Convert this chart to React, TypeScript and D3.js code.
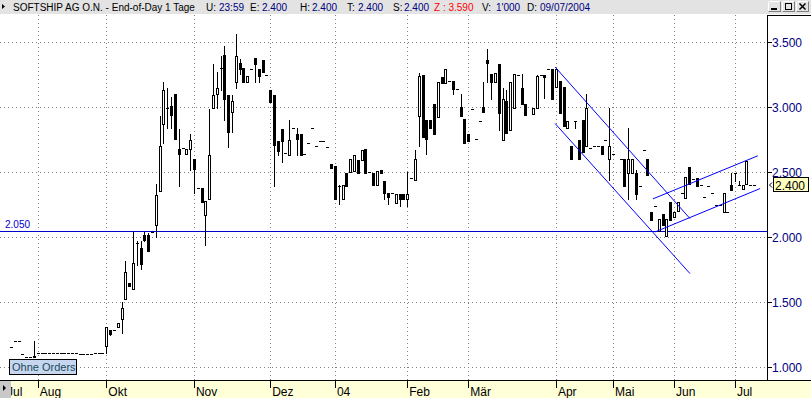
import * as d3 from "d3";

// right-axis price levels
const priceTicks = [1.0, 1.5, 2.0, 2.5, 3.0, 3.5];

// month labels and the bar index where each month starts
const monthLabels = ["Jul", "Aug", "Okt", "Nov", "Dez", "04", "Feb", "Mär", "Apr", "Mai", "Jun", "Jul"];
const monthStarts = [-1.6, 7, 25, 48, 68, 85, 104, 120, 143, 158, 174, 190];

// daily bars [open, high, low, close]; a single number = one traded price; null = no bar
const bars: (number | number[] | null)[] = [
  1.154, 1.2, 1.2, 1.1, 1.08, 1.08, [1.08, 1.2, 1.08, 1.085],
  1.113, 1.113, 1.113, 1.113, 1.113, 1.113, 1.113, 1.113, 1.113, 1.113, 1.113,
  1.105, 1.105, 1.105, 1.105, 1.113, 1.113, 1.113,
  // Okt
  [1.167, 1.31, 1.113, 1.31], [1.285, 1.29, 1.25, 1.254], 1.285, [1.31, 1.34, 1.31, 1.34],
  [1.372, 1.5, 1.264, 1.454], [1.525, 1.818, 1.525, 1.731], [1.648, 1.648, 1.628, 1.628],
  [1.602, 2.044, 1.602, 1.802], [1.96, 1.975, 1.785, 1.96], [1.915, 1.972, 1.754, 1.792],
  [2.018, 2.044, 1.972, 1.977], [2.018, 2.03, 1.895, 1.895], 2.04, [2.098, 2.413, 2.002, 2.328],
  [2.356, 2.93, 2.356, 2.7], [2.874, 3.195, 2.725, 3.131], [2.998, 3.145, 2.838, 2.998],
  [3.008, 3.079, 2.84, 2.944], [3.1, 3.1, 2.759, 2.759], [2.677, 2.836, 2.395, 2.644], 2.687,
  [2.644, 2.682, 2.644, 2.682], [2.682, 2.798, 2.515, 2.746],
  // Nov
  [2.6, 2.6, 2.344, 2.528], 2.377, [2.377, 2.377, 2.272, 2.272], [2.175, 2.277, 1.944, 2.277],
  [2.298, 2.99, 2.298, 2.636], [2.998, 3.336, 2.995, 3.094], [3.1, 3.272, 2.995, 3.145],
  [3.302, 3.395, 3.136, 3.302], [3.4, 3.469, 2.9, 3.067], [3.092, 3.092, 2.694, 2.81],
  [2.967, 3.092, 2.81, 3.046], [3.198, 3.567, 3.145, 3.392], [3.344, 3.375, 3.254, 3.298],
  [3.302, 3.302, 3.196, 3.196], [3.196, 3.244, 3.196, 3.244], 3.298, [3.377, 3.377, 3.196, 3.333],
  [3.298, 3.298, 3.196, 3.242], [3.362, 3.362, 3.275, 3.275], 3.245,
  // Dez
  [3.136, 3.136, 3.041, 3.041], [3.092, 3.092, 2.398, 2.713], [2.738, 2.738, 2.63, 2.664],
  [2.836, 2.836, 2.579, 2.741], 2.648, [2.636, 2.9, 2.636, 2.746], 2.844, [2.798, 2.844, 2.63, 2.76],
  [2.798, 2.798, 2.631, 2.631], 2.644, 2.729, 2.844, 2.7, 2.744, 2.744, 2.695, [2.567, 2.567, 2.53, 2.53],
  // 04
  [2.546, 2.546, 2.292, 2.292], [2.395, 2.4, 2.259, 2.395], [2.298, 2.4, 2.298, 2.4],
  [2.498, 2.498, 2.395, 2.395], [2.502, 2.605, 2.502, 2.605], [2.51, 2.636, 2.51, 2.636],
  [2.597, 2.597, 2.498, 2.498], [2.597, 2.669, 2.597, 2.669], [2.682, 2.682, 2.498, 2.498], 2.5,
  [2.498, 2.498, 2.4, 2.4], [2.4, 2.508, 2.4, 2.508], [2.515, 2.515, 2.498, 2.498],
  [2.431, 2.431, 2.292, 2.344], [2.344, 2.344, 2.259, 2.31], 2.344, [2.267, 2.336, 2.267, 2.336],
  [2.336, 2.336, 2.24, 2.292], [2.33, 2.33, 2.298, 2.298],
  // Feb
  [2.298, 2.502, 2.24, 2.336], 2.459, [2.444, 2.669, 2.444, 2.6], [2.933, 3.267, 2.7, 3.244],
  [3.246, 3.246, 2.772, 2.772], [2.9, 2.9, 2.644, 2.758], [2.9, 2.9, 2.841, 2.841],
  [3.028, 3.028, 2.798, 2.798], [2.925, 3.198, 2.925, 3.198], [3.233, 3.233, 3.19, 3.19],
  [3.19, 3.298, 3.19, 3.298], 3.2, [3.2, 3.2, 3.105, 3.144], 3.144, [3.003, 3.105, 2.935, 2.935],
  [2.913, 2.913, 2.725, 2.725],
  // Mär
  [2.798, 2.798, 2.741, 2.741], 2.99, 2.76, 2.897, [3.003, 3.195, 2.964, 2.964],
  [3.362, 3.446, 3.195, 3.341], [3.259, 3.259, 3.067, 3.195], [3.196, 3.267, 3.196, 3.267],
  [3.331, 3.331, 2.828, 2.957], [2.746, 3.145, 2.746, 3.067], [3.046, 3.131, 2.805, 2.805],
  [2.823, 3.195, 2.823, 3.195], [2.998, 3.259, 2.998, 3.259], 3.25, [3.145, 3.259, 3.028, 3.028],
  [3.028, 3.028, 2.938, 2.938], null, [2.946, 2.998, 2.946, 2.998], [2.998, 3.246, 2.998, 3.238],
  3.246, [3.246, 3.246, 3.072, 3.233], 3.298, [3.292, 3.292, 3.067, 3.067],
  // Apr
  [3.158, 3.298, 3.158, 3.298], [3.2, 3.2, 2.957, 2.957], [3.156, 3.156, 2.856, 2.856],
  [2.841, 2.895, 2.841, 2.895], [2.7, 2.7, 2.6, 2.6], [2.892, 2.892, 2.84, 2.892],
  [2.746, 2.746, 2.6, 2.6], [2.9, 2.9, 2.656, 2.656], [2.7, 3.1, 2.7, 2.995], 2.685, 2.7, 2.7,
  [2.7, 2.7, 2.644, 2.644], 2.746, [2.6, 2.998, 2.444, 2.7],
  // Mai
  2.644, null, 2.6, [2.6, 2.6, 2.392, 2.392], [2.498, 2.844, 2.298, 2.6], [2.498, 2.6, 2.498, 2.6],
  [2.498, 2.52, 2.298, 2.336], 2.395, 2.674, [2.6, 2.6, 2.482, 2.482], [2.195, 2.195, 2.136, 2.136],
  2.241, [2.049, 2.144, 2.049, 2.144], [2.182, 2.182, 2.098, 2.098], [2.008, 2.144, 2.008, 2.144],
  [2.272, 2.272, 2.131, 2.131],
  // Jun
  [2.156, 2.195, 2.156, 2.195], [2.2, 2.272, 2.2, 2.272], 2.341, [2.305, 2.464, 2.305, 2.464],
  [2.541, 2.541, 2.413, 2.413], 2.451, [2.456, 2.456, 2.395, 2.395], 2.405, 2.31, 2.395, 2.344,
  2.246, 2.246, [2.195, 2.341, 2.195, 2.341], 2.195, [2.4, 2.495, 2.362, 2.362],
  // Jul
  [2.495, 2.495, 2.43, 2.495], [2.405, 2.436, 2.405, 2.405], [2.374, 2.402, 2.374, 2.402],
  [2.413, 2.587, 2.413, 2.587], 2.4, 2.4,
];

// drawn trend lines: [barIndex, price] end points
const trendLines = [
  [[142.8, 3.31], [178.2, 2.144]],
  [[142.8, 2.875], [178.2, 1.721]],
  [[168.5, 2.296], [196.0, 2.627]],
  [[169.0, 2.041], [196.6, 2.375]],
];
const supportLevel = 2.05;

// header fields
const header = [
  { t: "SOFTSHIP AG O.N. - End-of-Day 1 Tage", c: "#000", x: 13 },
  { t: "U:", c: "#000", x: 206 }, { t: "23:59", c: "#000080", x: 219 },
  { t: "E:", c: "#000", x: 250 }, { t: "2.400", c: "#000080", x: 262 },
  { t: "H:", c: "#000", x: 300 }, { t: "2.400", c: "#000080", x: 312 },
  { t: "T:", c: "#000", x: 347 }, { t: "2.400", c: "#000080", x: 358 },
  { t: "S:", c: "#000", x: 393 }, { t: "2.400", c: "#000080", x: 404 },
  { t: "Z : 3.590", c: "#ff0000", x: 434 },
  { t: "V:", c: "#000", x: 482 }, { t: "1'000", c: "#000080", x: 496 },
  { t: "D:", c: "#000", x: 527 }, { t: "09/07/2004", c: "#000080", x: 540 },
];

const W = 811;
const H = 398;
const plotRight = 767;
const plotTop = 15;
const plotBottom = 380;

export default function App() {
  const x = d3.scaleLinear().domain([0, bars.length - 1]).range([11.05, 754]);
  const y = d3.scaleLinear().domain([1, 3.5]).range([367.3, 42.3]);
  const fmt = d3.format(".3f");

  const last = bars[bars.length - 1];
  const lastPrice = typeof last === "number" ? last : (last as number[])[3];
  const yLast = Math.round(y(lastPrice));

  const line = d3.line<number[]>().x((d) => x(d[0])).y((d) => y(d[1]));

  const candles = bars.map((b, i) => {
    if (b == null) return null;
    const [o, h, l, c] = typeof b === "number" ? [b, b, b, b] : b;
    const cx = Math.round(x(i));
    const yo = Math.round(y(o));
    const yc = Math.round(y(c));
    const yh = Math.round(y(h));
    const yl = Math.round(y(l));
    const top = Math.min(yo, yc);
    const bot = Math.max(yo, yc);
    return (
      <g key={i}>
        {yh !== yl && <line x1={cx + 0.5} x2={cx + 0.5} y1={yh} y2={yl + 1} stroke="#000" />}
        {bot - top < 1 ? (
          <line x1={cx - 1} x2={cx + 2} y1={top + 0.5} y2={top + 0.5} stroke="#000" />
        ) : c >= o ? (
          <rect x={cx - 0.5} y={top + 0.5} width={2} height={bot - top} fill="#fff" stroke="#000" />
        ) : (
          <rect x={cx - 1} y={top} width={3} height={bot - top + 1} fill="#000" />
        )}
      </g>
    );
  });

  return (
    <svg
      width={W}
      height={H}
      style={{ position: "absolute", left: 0, top: 0, background: "#fff" }}
      fontFamily="'Liberation Sans', Arial, sans-serif"
    >
      {/* title bar */}
      <rect x={0} y={0} width={W} height={14} fill="#e3e3e3" />
      <path d="M2,4 L5,6.5 L2,9 Z" fill="#000" />
      {header.map((d, i) => (
        <text key={i} x={d.x} y={11} fontSize={10} fill={d.c}>
          {d.t}
        </text>
      ))}
      {[768, 782, 796].map((bx, i) => (
        <g key={bx}>
          <rect x={bx + 0.5} y={1.5} width={12} height={10} fill="#e3e3e3" stroke="#808080" />
          <path d={`M${bx + 0.5},11.5 V1.5 H${bx + 12.5}`} fill="none" stroke="#fff" />
          {i === 0 && <rect x={bx + 3} y={8} width={6} height={2} fill="#000" />}
          {i === 1 && <rect x={bx + 3.5} y={3.5} width={6} height={6} fill="none" stroke="#000" />}
          {i === 2 && (
            <path d={`M${bx + 3.5},3.5 L${bx + 9.5},9.5 M${bx + 9.5},3.5 L${bx + 3.5},9.5`} stroke="#000" strokeWidth={1.5} />
          )}
        </g>
      ))}

      {/* dotted grid */}
      <g stroke="#808080" strokeDasharray="1,3">
        {priceTicks.map((p) => (
          <line key={p} x1={0} x2={plotRight} y1={Math.round(y(p)) + 0.5} y2={Math.round(y(p)) + 0.5} />
        ))}
        {monthStarts
          .filter((m) => m >= 0)
          .map((m) => (
            <line key={m} x1={Math.round(x(m)) + 0.5} x2={Math.round(x(m)) + 0.5} y1={plotTop} y2={plotBottom} />
          ))}
      </g>

      {/* support line */}
      <line x1={0} x2={plotRight} y1={Math.round(y(supportLevel)) + 0.5} y2={Math.round(y(supportLevel)) + 0.5} stroke="#0000cc" />
      <text x={5} y={Math.round(y(supportLevel)) - 3} fontSize={10} fill="#0000cc">
        {fmt(supportLevel)}
      </text>

      {/* candles */}
      <g shapeRendering="crispEdges">{candles}</g>

      {/* trend channels */}
      <g fill="none" stroke="#0000ff" strokeWidth={1}>
        {trendLines.map((t, i) => (
          <path key={i} d={line(t as number[][]) || ""} />
        ))}
      </g>

      {/* note box */}
      <rect x={9.5} y={359.5} width={67} height={15} fill="#c6d6ee" stroke="#000" />
      <text x={12} y={371} fontSize={11} fill="#1c4a5c">
        Ohne Orders
      </text>

      {/* right price axis */}
      <rect x={plotRight + 1} y={plotTop + 1} width={W - plotRight - 1} height={plotBottom - plotTop - 1} fill="#fff" />
      <g shapeRendering="crispEdges" stroke="#000">
        <line x1={plotRight + 0.5} x2={plotRight + 0.5} y1={plotTop} y2={plotBottom} />
        <line x1={plotRight} x2={W} y1={plotTop + 0.5} y2={plotTop + 0.5} />
        {priceTicks.map((p) => (
          <line key={p} x1={plotRight} x2={plotRight + 5} y1={Math.round(y(p)) + 0.5} y2={Math.round(y(p)) + 0.5} />
        ))}
      </g>
      {priceTicks.map((p) => (
        <text key={p} x={772} y={Math.round(y(p)) + 5} fontSize={12} fill="#000080">
          {fmt(p)}
        </text>
      ))}
      <path d={`M772,${yLast - 2.5} L769.5,${yLast} L772,${yLast + 2.5}`} fill="none" stroke="#000" />
      <rect x={773.5} y={yLast - 7.5} width={35} height={14} fill="#ffffc0" stroke="#000" />
      <text x={775} y={yLast + 4.5} fontSize={12} fill="#000">
        {fmt(lastPrice)}
      </text>

      {/* time axis */}
      <rect x={0} y={plotBottom + 1} width={W} height={H - plotBottom - 1} fill="#ffffd8" />
      <line x1={0} x2={W} y1={plotBottom + 0.5} y2={plotBottom + 0.5} stroke="#000" />
      {monthStarts.map((m, i) => (
        <g key={i}>
          {m >= 0 && (
            <line x1={Math.round(x(m)) + 0.5} x2={Math.round(x(m)) + 0.5} y1={plotBottom + 1} y2={plotBottom + 8} stroke="#000" />
          )}
          <text x={x(m) + 2} y={396} fontSize={12} fill="#000">
            {monthLabels[i]}
          </text>
        </g>
      ))}
      <rect x={0} y={plotBottom + 1} width={11} height={H - plotBottom - 1} fill="#c8c8c8" />
      <path d="M3,385 L6,388 L3,391 Z" fill="#000" />
    </svg>
  );
}
